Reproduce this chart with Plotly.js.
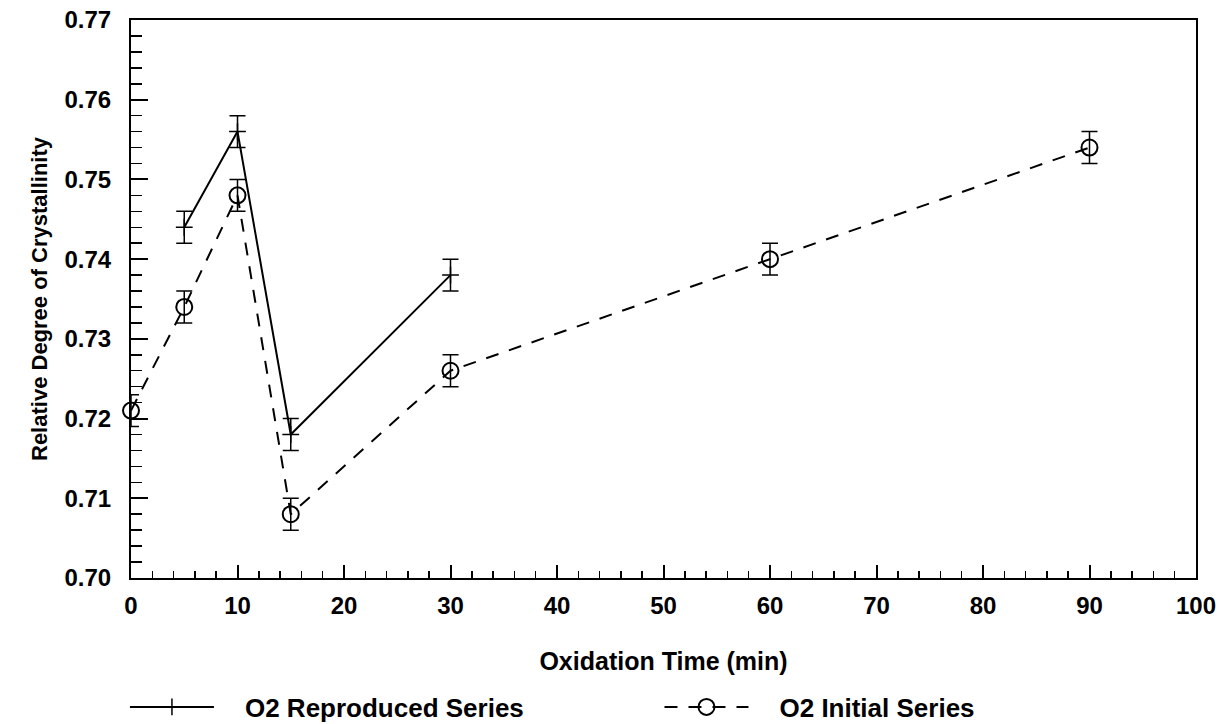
<!DOCTYPE html>
<html>
<head>
<meta charset="utf-8">
<script src="https://cdn.plot.ly/plotly-3.0.1.min.js"></script>
<style>html,body{margin:0;padding:0;background:#fff;}#chart{width:1219px;height:724px;}</style>
</head>
<body>
<div id="chart"></div>
<script>
// Data
const reproducedTime = [5, 10, 15, 30];
const reproducedValue = [0.744, 0.756, 0.718, 0.738];
const reproducedError = [0.002, 0.002, 0.002, 0.002];

const initialTime = [0, 5, 10, 15, 30, 60, 90];
const initialValue = [0.721, 0.734, 0.748, 0.708, 0.726, 0.740, 0.754];
const initialError = [0.002, 0.002, 0.002, 0.002, 0.002, 0.002, 0.002];

const xTickVals = [0, 10, 20, 30, 40, 50, 60, 70, 80, 90, 100];
const yTickVals = [0.70, 0.71, 0.72, 0.73, 0.74, 0.75, 0.76, 0.77];
const yTickText = ['0.70', '0.71', '0.72', '0.73', '0.74', '0.75', '0.76', '0.77'];

const seriesNames = ['O2 Reproduced Series', 'O2 Initial Series'];

const FONT = 'Liberation Sans, Arial, sans-serif';
const GAP = '\u2002\u2002';

const traces = [
  {
    x: reproducedTime, y: reproducedValue, name: GAP + seriesNames[0],
    type: 'scatter', mode: 'lines+markers', cliponaxis: false,
    line: {color: '#000', width: 2},
    marker: {symbol: 'cross-thin-open', size: 12, color: '#000', line: {color: '#000', width: 1.5}},
    error_y: {type: 'data', array: reproducedError, visible: true, color: '#000', thickness: 1.5, width: 8},
    legend: 'legend'
  },
  {
    x: initialTime, y: initialValue, name: GAP + seriesNames[1],
    type: 'scatter', mode: 'lines+markers', cliponaxis: false,
    line: {color: '#000', width: 2, dash: '13px,11px'},
    marker: {symbol: 'circle-open', size: 16, color: '#000', line: {color: '#000', width: 2}},
    error_y: {type: 'data', array: initialError, visible: true, color: '#000', thickness: 1.5, width: 8},
    legend: 'legend2'
  }
];

const legendCommon = {
  orientation: 'h', xref: 'container', yref: 'container', yanchor: 'middle', xanchor: 'left',
  font: {family: FONT, size: 26, color: '#000', weight: 'bold'}, bgcolor: 'rgba(0,0,0,0)',
  itemwidth: 84
};

const layout = {
  width: 1219, height: 724,
  margin: {l: 131, r: 23, t: 20, b: 146},
  paper_bgcolor: '#fff', plot_bgcolor: '#fff',
  showlegend: true,
  font: {family: FONT, color: '#000'},
  xaxis: {
    range: [0, 100], tickvals: xTickVals, ticktext: xTickVals.map(String),
    ticks: 'inside', ticklen: 13, tickwidth: 2, tickcolor: '#000',
    minor: {dtick: 2, ticks: 'inside', ticklen: 7, tickwidth: 1.5, tickcolor: '#000', showgrid: false},
    showline: true, linecolor: '#000', linewidth: 2, mirror: true,
    showgrid: false, zeroline: false, automargin: false,
    tickfont: {family: FONT, size: 24, color: '#000', weight: 'bold'},
    ticklabelstandoff: 5,
    title: {text: 'Oxidation Time (min)', font: {family: FONT, size: 25, color: '#000', weight: 'bold'}, standoff: 35}
  },
  yaxis: {
    range: [0.70, 0.77], tickvals: yTickVals, ticktext: yTickText,
    ticks: 'inside', ticklen: 17, tickwidth: 2, tickcolor: '#000',
    minor: {dtick: 0.002, ticks: 'inside', ticklen: 11, tickwidth: 1.5, tickcolor: '#000', showgrid: false},
    showline: true, linecolor: '#000', linewidth: 2, mirror: true,
    showgrid: false, zeroline: false, automargin: false,
    tickfont: {family: FONT, size: 24, color: '#000', weight: 'bold'},
    ticklabelstandoff: 13,
    title: {text: 'Relative Degree of Crystallinity', font: {family: FONT, size: 22, color: '#000', weight: 'bold'}, standoff: 11}
  },
  legend: Object.assign({}, legendCommon, {x: 0.1025, y: 0.0235}),
  legend2: Object.assign({}, legendCommon, {x: 0.541, y: 0.0235})
};

Plotly.newPlot('chart', traces, layout, {displayModeBar: false, staticPlot: true});
</script>
</body>
</html>
